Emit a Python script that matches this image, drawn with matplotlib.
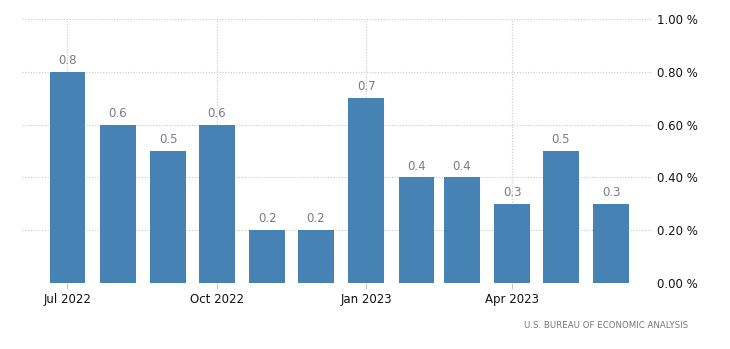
import pandas as pd
import matplotlib.dates as mdates
from matplotlib import pyplot as plt

months = pd.date_range('2022-07-01', '2023-06-01', freq='MS')
values = [0.8, 0.6, 0.5, 0.6, 0.2, 0.2, 0.7, 0.4, 0.4, 0.3, 0.5, 0.3]
tick_dates = pd.to_datetime(['2022-07-01', '2022-10-01', '2023-01-01', '2023-04-01'])
tick_labels = ['Jul 2022', 'Oct 2022', 'Jan 2023', 'Apr 2023']
y_ticks = [0.0, 0.2, 0.4, 0.6, 0.8, 1.0]
source = 'U.S. BUREAU OF ECONOMIC ANALYSIS'

bar_color = '#4682b4'
grid_color = '#c8c8c8'

fig = plt.figure(figsize=(7.3, 3.49), dpi=100)
ax = fig.add_axes([0.030, 0.189, 0.863, 0.757])

x = mdates.date2num(months)
ax.bar(x, values, width=22, color=bar_color, zorder=2)

for xi, v in zip(x, values):
    ax.annotate(f'{v:.1f}', (xi, v), xytext=(0, 3.5), textcoords='offset points',
                ha='center', va='bottom', fontsize=8.5, color='#7a7a8c')

ax.set_xlim(mdates.date2num(pd.Timestamp('2022-06-03')),
            mdates.date2num(pd.Timestamp('2023-06-26')))
ax.set_ylim(0, 1.0)

ax.set_xticks(mdates.date2num(tick_dates))
ax.set_xticklabels(tick_labels)
ax.set_yticks(y_ticks)
ax.set_yticklabels([f'{t:.2f} %' for t in y_ticks])

ax.yaxis.tick_right()
ax.tick_params(axis='y', length=0, pad=4, labelsize=8.5, labelcolor='#111111')
ax.tick_params(axis='x', length=4, color=grid_color, pad=3, labelsize=8.5,
               labelcolor='#111111')

ax.grid(True, linestyle=(0, (1, 1.5)), color=grid_color, linewidth=0.8, zorder=0)
for s in ax.spines.values():
    s.set_visible(False)

fig.text(0.943, 0.068, source, ha='right', va='center', fontsize=6.2,
         color='#777777')

plt.savefig('out.png', dpi=100)
